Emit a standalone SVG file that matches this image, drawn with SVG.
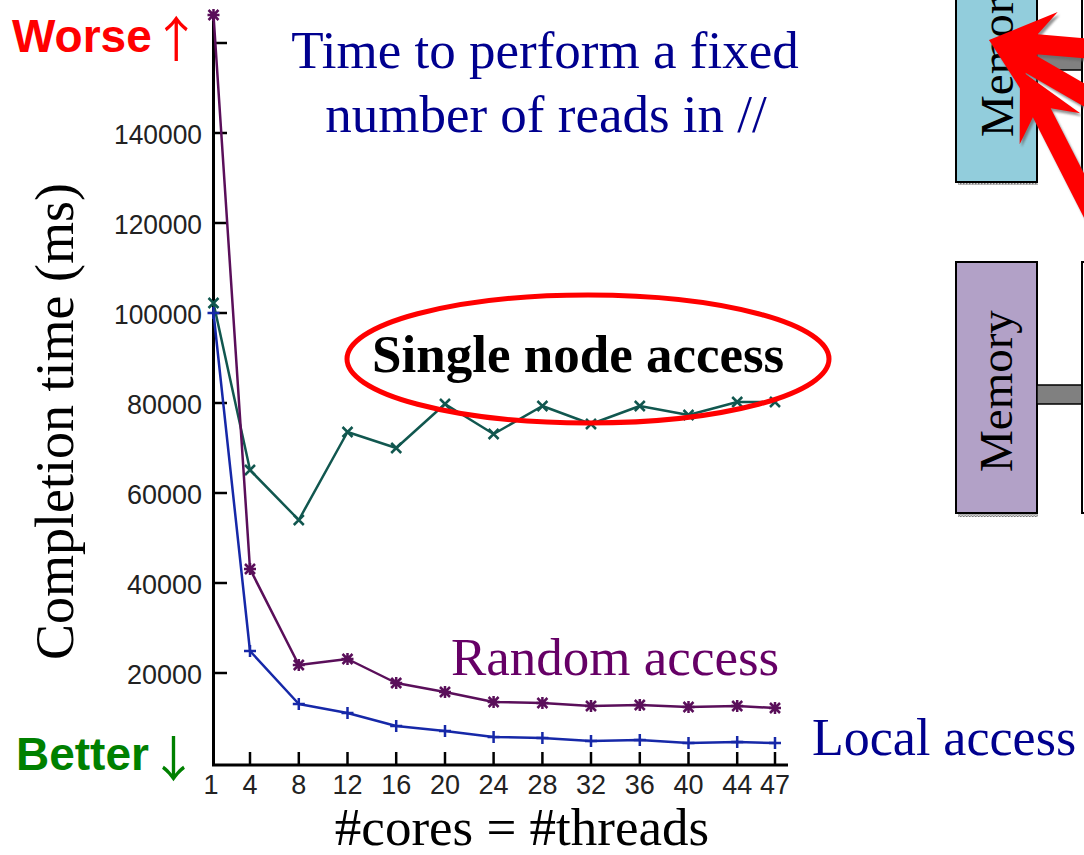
<svg xmlns="http://www.w3.org/2000/svg" xmlns:xlink="http://www.w3.org/1999/xlink" width="1084" height="855" viewBox="0 0 1084 855">
  <style>
    .axis { stroke: #000; stroke-width: 3; fill: none; }
    .tick { stroke: #000; stroke-width: 2.5; }
    .ylab { font-family: "Liberation Sans", Arial, sans-serif; font-size: 28px; fill: #222; text-anchor: end; }
    .xlab { font-family: "Liberation Sans", Arial, sans-serif; font-size: 27px; fill: #222; text-anchor: middle; }
    .serif { font-family: "Liberation Serif", "Times New Roman", serif; }
    .rand { stroke: #5a0f5a; stroke-width: 2.5; fill: none; stroke-linejoin: round; }
    .local { stroke: #1628a8; stroke-width: 2.5; fill: none; stroke-linejoin: round; }
    .single { stroke: #11574f; stroke-width: 2.5; fill: none; stroke-linejoin: round; }
    .mem { stroke: #000; stroke-width: 2; }
    .bar { fill: #808080; stroke: #000; stroke-width: 1.5; }
    .memtxt { font-family: "Liberation Serif", "Times New Roman", serif; font-size: 47px; fill: #000; }
    .hint { font-family: "Liberation Sans", Arial, sans-serif; font-weight: bold; font-size: 46px; }
    .hintArrow { font-family: "Noto Sans CJK SC", "Noto Sans CJK JP", sans-serif; font-weight: normal; font-size: 49px; }
  </style>
  <defs>
    <!-- point markers -->
    <g id="mStar" class="rand">
      <path d="M-5,-5 L5,5 M-5,5 L5,-5 M0,-6 L0,6 M-6,0 L6,0"/>
    </g>
    <g id="mPlus" class="local">
      <path d="M0,-6 L0,6 M-6,0 L6,0"/>
    </g>
    <g id="mCross" class="single">
      <path d="M-5,-5 L5,5 M-5,5 L5,-5"/>
    </g>
    <!-- block arrow pointing left, tip at origin -->
    <polygon id="bigArrow" points="0,0 66,-34 48,-10 180,-10 180,10 48,10 66,34"/>
    <pattern id="grain" width="3" height="3" patternUnits="userSpaceOnUse">
      <rect width="3" height="3" fill="#d8d8d8"/>
      <rect width="1.5" height="1.5" fill="#777"/>
      <rect x="1.5" y="1.5" width="1.5" height="1.5" fill="#999"/>
    </pattern>
    <filter id="soft" x="-10%" y="-10%" width="120%" height="120%">
      <feGaussianBlur stdDeviation="1.2"/>
    </filter>
  </defs>

  <rect width="1084" height="855" fill="#fff"/>

  <!-- memory nodes -->
  <g id="memory-top">
    <rect x="958" y="180" width="80" height="5" fill="url(#grain)"/>
    <rect class="mem" x="956" y="-5" width="81" height="187" fill="#92cddc"/>
    <rect class="bar" x="1037" y="53" width="46" height="17"/>
    <rect class="mem" x="1082" y="-5" width="20" height="187" fill="#fff"/>
    <text class="memtxt" transform="translate(1013,137) rotate(-90)">Memory</text>
  </g>
  <g id="memory-bottom">
    <rect x="958" y="512" width="80" height="5" fill="url(#grain)"/>
    <rect class="mem" x="956" y="262" width="81" height="251" fill="#b2a1c7"/>
    <rect class="bar" x="1037" y="385" width="46" height="19"/>
    <rect class="mem" x="1082" y="262" width="20" height="251" fill="#fff"/>
    <text class="memtxt" transform="translate(1012,472) rotate(-90)">Memory</text>
  </g>

  <!-- red arrows converging on the top memory -->
  <g id="red-arrows">
    <g fill="#666" opacity="0.7" filter="url(#soft)" transform="translate(2,3)">
      <use xlink:href="#bigArrow" transform="translate(989,40) rotate(5)"/>
      <use xlink:href="#bigArrow" transform="translate(989,40) rotate(30)"/>
      <use xlink:href="#bigArrow" transform="translate(1020,70) rotate(63)"/>
    </g>
    <g fill="#ff0000">
      <use xlink:href="#bigArrow" transform="translate(989,40) rotate(5)"/>
      <use xlink:href="#bigArrow" transform="translate(989,40) rotate(30)"/>
      <use xlink:href="#bigArrow" transform="translate(1020,70) rotate(63)"/>
    </g>
  </g>

  <!-- axes -->
  <g id="axes">
    <path class="axis" d="M213.5,12 L213.5,765 L788,765"/>
    <g class="tick">
      <line x1="213" y1="43" x2="227" y2="43"/>
      <line x1="213" y1="133" x2="227" y2="133"/>
      <line x1="213" y1="223" x2="227" y2="223"/>
      <line x1="213" y1="313" x2="227" y2="313"/>
      <line x1="213" y1="403" x2="227" y2="403"/>
      <line x1="213" y1="493" x2="227" y2="493"/>
      <line x1="213" y1="583" x2="227" y2="583"/>
      <line x1="213" y1="673" x2="227" y2="673"/>
      <line x1="250" y1="752" x2="250" y2="765"/>
      <line x1="298.8" y1="752" x2="298.8" y2="765"/>
      <line x1="347.5" y1="752" x2="347.5" y2="765"/>
      <line x1="396.2" y1="752" x2="396.2" y2="765"/>
      <line x1="445" y1="752" x2="445" y2="765"/>
      <line x1="493.6" y1="752" x2="493.6" y2="765"/>
      <line x1="542.4" y1="752" x2="542.4" y2="765"/>
      <line x1="591" y1="752" x2="591" y2="765"/>
      <line x1="639.8" y1="752" x2="639.8" y2="765"/>
      <line x1="688.5" y1="752" x2="688.5" y2="765"/>
      <line x1="737.2" y1="752" x2="737.2" y2="765"/>
      <line x1="775" y1="752" x2="775" y2="765"/>
    </g>
    <g>
      <text class="ylab" x="202" y="144" textLength="88" lengthAdjust="spacingAndGlyphs">140000</text>
      <text class="ylab" x="202" y="234" textLength="88" lengthAdjust="spacingAndGlyphs">120000</text>
      <text class="ylab" x="202" y="324" textLength="88" lengthAdjust="spacingAndGlyphs">100000</text>
      <text class="ylab" x="202" y="414" textLength="75" lengthAdjust="spacingAndGlyphs">80000</text>
      <text class="ylab" x="202" y="504" textLength="75" lengthAdjust="spacingAndGlyphs">60000</text>
      <text class="ylab" x="202" y="594" textLength="75" lengthAdjust="spacingAndGlyphs">40000</text>
      <text class="ylab" x="202" y="684" textLength="75" lengthAdjust="spacingAndGlyphs">20000</text>
    </g>
    <g>
      <text class="xlab" x="211" y="794">1</text>
      <text class="xlab" x="250" y="794">4</text>
      <text class="xlab" x="298.8" y="794">8</text>
      <text class="xlab" x="347.5" y="794">12</text>
      <text class="xlab" x="396.2" y="794">16</text>
      <text class="xlab" x="445" y="794">20</text>
      <text class="xlab" x="493.6" y="794">24</text>
      <text class="xlab" x="542.4" y="794">28</text>
      <text class="xlab" x="591" y="794">32</text>
      <text class="xlab" x="639.8" y="794">36</text>
      <text class="xlab" x="688.5" y="794">40</text>
      <text class="xlab" x="737.2" y="794">44</text>
      <text class="xlab" x="775" y="794">47</text>
    </g>
    <text class="serif" x="73" y="660" font-size="54" transform="rotate(-90 73 660)">Completion time (ms)</text>
    <text class="serif" x="522" y="845" font-size="53" text-anchor="middle">#cores = #threads</text>
  </g>

  <!-- data series -->
  <g id="series-single">
    <polyline class="single" points="213.5,303 250,470 298.8,520 347.5,432 396.2,448 445,404 493.6,434 542.4,406 591,424 639.8,406 688.5,415 737.2,402 775,402"/>
    <use xlink:href="#mCross" x="213.5" y="303"/>
    <use xlink:href="#mCross" x="250" y="470"/>
    <use xlink:href="#mCross" x="298.8" y="520"/>
    <use xlink:href="#mCross" x="347.5" y="432"/>
    <use xlink:href="#mCross" x="396.2" y="448"/>
    <use xlink:href="#mCross" x="445" y="404"/>
    <use xlink:href="#mCross" x="493.6" y="434"/>
    <use xlink:href="#mCross" x="542.4" y="406"/>
    <use xlink:href="#mCross" x="591" y="424"/>
    <use xlink:href="#mCross" x="639.8" y="406"/>
    <use xlink:href="#mCross" x="688.5" y="415"/>
    <use xlink:href="#mCross" x="737.2" y="402"/>
    <use xlink:href="#mCross" x="775" y="402"/>
  </g>
  <g id="series-random">
    <polyline class="rand" points="213.5,15 250,569 298.8,665 347.5,659 396.2,683 445,692 493.6,702 542.4,703 591,706 639.8,705 688.5,707 737.2,706 775,708"/>
    <use xlink:href="#mStar" x="213.5" y="15"/>
    <use xlink:href="#mStar" x="250" y="569"/>
    <use xlink:href="#mStar" x="298.8" y="665"/>
    <use xlink:href="#mStar" x="347.5" y="659"/>
    <use xlink:href="#mStar" x="396.2" y="683"/>
    <use xlink:href="#mStar" x="445" y="692"/>
    <use xlink:href="#mStar" x="493.6" y="702"/>
    <use xlink:href="#mStar" x="542.4" y="703"/>
    <use xlink:href="#mStar" x="591" y="706"/>
    <use xlink:href="#mStar" x="639.8" y="705"/>
    <use xlink:href="#mStar" x="688.5" y="707"/>
    <use xlink:href="#mStar" x="737.2" y="706"/>
    <use xlink:href="#mStar" x="775" y="708"/>
  </g>
  <g id="series-local">
    <polyline class="local" points="213.5,313 250,651 298.8,704 347.5,713 396.2,726 445,731 493.6,737 542.4,738 591,741 639.8,740 688.5,743 737.2,742 775,743"/>
    <use xlink:href="#mPlus" x="213.5" y="313"/>
    <use xlink:href="#mPlus" x="250" y="651"/>
    <use xlink:href="#mPlus" x="298.8" y="704"/>
    <use xlink:href="#mPlus" x="347.5" y="713"/>
    <use xlink:href="#mPlus" x="396.2" y="726"/>
    <use xlink:href="#mPlus" x="445" y="731"/>
    <use xlink:href="#mPlus" x="493.6" y="737"/>
    <use xlink:href="#mPlus" x="542.4" y="738"/>
    <use xlink:href="#mPlus" x="591" y="741"/>
    <use xlink:href="#mPlus" x="639.8" y="740"/>
    <use xlink:href="#mPlus" x="688.5" y="743"/>
    <use xlink:href="#mPlus" x="737.2" y="742"/>
    <use xlink:href="#mPlus" x="775" y="743"/>
  </g>

  <!-- annotations -->
  <g id="title">
    <text class="serif" x="545" y="68" font-size="53" fill="#00008f" text-anchor="middle">Time to perform a fixed</text>
    <text class="serif" x="546" y="132" font-size="53" fill="#00008f" text-anchor="middle">number of reads in //</text>
  </g>
  <g id="single-label">
    <ellipse cx="588" cy="359" rx="241" ry="64" fill="none" stroke="#ff0000" stroke-width="5"/>
    <text class="serif" x="372" y="372" font-size="53" font-weight="bold" fill="#000">Single node access</text>
  </g>
  <text id="random-label" class="serif" x="451" y="675" font-size="53" fill="#660066">Random access</text>
  <text id="local-label" class="serif" x="812" y="755" font-size="52" fill="#00008f">Local access</text>
  <text id="worse" class="hint" x="12" y="52" fill="#ff0000">Worse<tspan class="hintArrow" dy="5">↑</tspan></text>
  <text id="better" class="hint" x="16" y="770" fill="#008000">Better<tspan class="hintArrow" dy="7">↓</tspan></text>
</svg>
